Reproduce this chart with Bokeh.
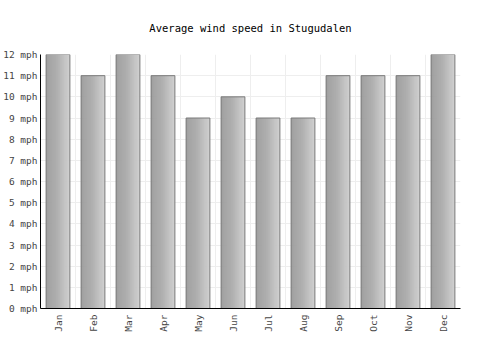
import math
from bokeh.plotting import figure
from bokeh.models import FixedTicker, Range1d
from bokeh.embed import file_html
from bokeh.resources import INLINE

months = ["Jan", "Feb", "Mar", "Apr", "May", "Jun", "Jul", "Aug", "Sep", "Oct", "Nov", "Dec"]
wind_mph = [12, 11, 12, 11, 9, 10, 9, 9, 11, 11, 11, 12]
y_ticks = list(range(0, 13))
y_tick_labels = [f"{v} mph" for v in y_ticks]
title_text = "Average wind speed in Stugudalen"

FONT = "DejaVu Sans Mono"

p = figure(width=500, height=350, output_backend="svg", toolbar_location=None,
           x_range=Range1d(0, 12), y_range=Range1d(0, 12),
           min_border_left=38, min_border_right=40, min_border_top=54, min_border_bottom=42)

p.title.text = title_text
p.title.align = "center"
p.title.vertical_align = "top"
p.title.text_font = FONT
p.title.text_font_size = "10.5px"
p.title.text_font_style = "normal"
p.title.text_color = "#000000"
p.title.standoff = 38

p.outline_line_color = None
p.background_fill_color = "white"
p.border_fill_color = "white"

# gradient bars built from thin strips
centers = [i + 0.5 for i in range(len(months))]
bar_w = 0.68
n_strips = 24
strip_w = bar_w / n_strips
c0 = (0x98, 0x98, 0x98)
c1 = (0xcc, 0xcc, 0xcc)
for k in range(n_strips):
    t = k / (n_strips - 1)
    col = "#%02x%02x%02x" % tuple(int(round(a + (b - a) * t)) for a, b in zip(c0, c1))
    off = -bar_w / 2 + strip_w * (k + 0.5)
    p.vbar(x=[c + off for c in centers], top=wind_mph, width=strip_w * 1.02, bottom=0,
           fill_color=col, line_color=None)
p.vbar(x=centers, top=wind_mph, width=bar_w, bottom=0, fill_color=None,
       line_color="#7a7a7a", line_width=1)

# axes
p.xaxis.ticker = FixedTicker(ticks=centers)
p.xaxis.major_label_overrides = {c: m for c, m in zip(centers, months)}
p.xaxis.major_label_orientation = math.pi / 2
p.yaxis.ticker = FixedTicker(ticks=y_ticks)
p.yaxis.major_label_overrides = {v: l for v, l in zip(y_ticks, y_tick_labels)}

for ax in (p.xaxis[0], p.yaxis[0]):
    ax.axis_line_color = "#000000"
    ax.axis_line_width = 1
    ax.major_tick_line_color = None
    ax.minor_tick_line_color = None
    ax.major_tick_out = 0
    ax.major_tick_in = 0
    ax.minor_tick_out = 0
    ax.minor_tick_in = 0
    ax.major_label_text_font = FONT
    ax.major_label_text_font_size = "9.5px"
    ax.major_label_text_color = "#444444"
p.yaxis.major_label_standoff = 3
p.xaxis.major_label_standoff = 6

p.xgrid.ticker = FixedTicker(ticks=list(range(0, 13)))
p.xgrid.grid_line_color = "#eeeeee"
p.ygrid.grid_line_color = "#eeeeee"

open("out.html", "w").write(file_html(p, INLINE))
